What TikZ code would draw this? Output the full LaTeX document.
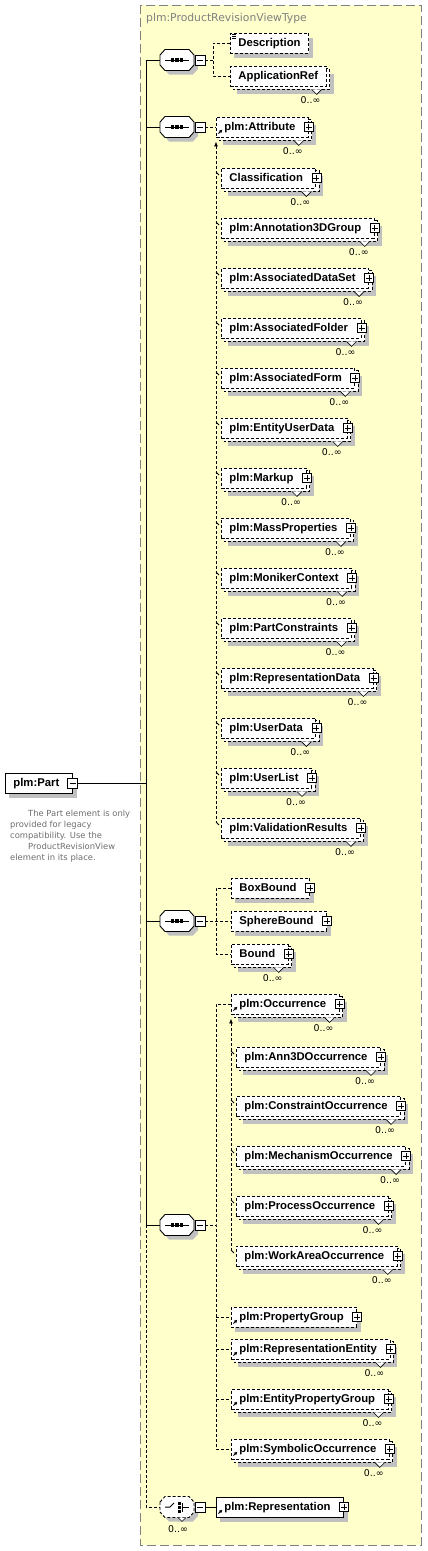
\documentclass[tikz,border=0pt]{standalone}
\usepackage{fontspec}
\setmainfont{Liberation Sans}
\newfontfamily\dejavu{DejaVu Sans}
\usetikzlibrary{calc,arrows.meta}

\definecolor{typefill}{RGB}{255,255,204}
\definecolor{shadowgray}{RGB}{192,192,192}
\definecolor{framegray}{RGB}{128,128,128}
\definecolor{docgray}{RGB}{110,110,110}

\pgfdeclarelayer{frame}
\pgfdeclarelayer{shade}
\pgfdeclarelayer{back}
\pgfsetlayers{frame,shade,back,main}

\tikzset{
  boxline/.style={line width=0.9pt, dash pattern=on 3pt off 2pt},
  conn/.style={line width=0.9pt, dash pattern=on 3pt off 2pt},
  link/.style={line width=0.9pt},
  basebox/.style={draw, boxline, fill=white, anchor=west, inner xsep=8pt, inner ysep=0pt,
    minimum height=20pt, text height=8.5pt, text depth=2.5pt,
    font=\fontsize{11.3}{13}\selectfont\bfseries},
  elem/.style={basebox, execute at end node={\hspace*{5pt}}},
  hub/.style={inner sep=0pt, minimum width=34pt, minimum height=21pt},
  plusbox/.style={draw, solid, line width=0.7pt, fill=white, minimum size=9pt, inner sep=0pt,
    path picture={\draw[line width=0.7pt] ($(path picture bounding box.center)+(-3,0)$) -- ++(6,0)
      ($(path picture bounding box.center)+(0,-3)$) -- ++(0,6);}},
  minusbox/.style={draw, solid, line width=0.7pt, fill=white, minimum size=10pt, inner sep=0pt,
    path picture={\draw[line width=0.7pt] ($(path picture bounding box.center)+(-3,0)$) -- ++(6,0);}},
  mult/.style={inner sep=0pt, font=\dejavu\fontsize{9.4}{10}\selectfont},
  doc/.style={inner sep=0pt, align=left, text=docgray, font=\dejavu\fontsize{8.4}{11}\selectfont},
  refarrow/.style={line width=0.9pt, -{Latex[length=3.5pt,width=3.5pt]}},
  headarrow/.style={{Latex[length=5pt,width=4pt]}-},
  seqshape/.pic={
    \fill[shadowgray] (-13,-1) -- (-8,-6.5) -- (16,-6.5) -- (21,-1) -- (21,9) -- (16,14.5) -- (-8,14.5) -- (-13,9) -- cycle;
    \draw[link, fill=white] (-17,-5) -- (-12,-10.5) -- (12,-10.5) -- (17,-5) -- (17,5) -- (12,10.5) -- (-12,10.5) -- (-17,5) -- cycle;
    \draw[line width=1pt] (-12,0) -- (12,0);
    \foreach \d in {-4.5,0,4.5} \fill (\d-1.7,-1.7) rectangle (\d+1.7,1.7);
  },
  choiceshape/.pic={
    \fill[shadowgray] (-13,-1) -- (-8,-6.5) -- (16,-6.5) -- (21,-1) -- (21,9) -- (16,14.5) -- (-8,14.5) -- (-13,9) -- cycle;
    \draw[boxline, fill=white] (-17,-5) -- (-12,-10.5) -- (12,-10.5) -- (17,-5) -- (17,5) -- (12,10.5) -- (-12,10.5) -- (-17,5) -- cycle;
    \draw[line width=1pt] (-12,0) -- (-7,0) -- (-3,-4);
    \draw[line width=0.8pt] (4.5,-4) -- (5.5,-4) -- (5.5,4) -- (4.5,4) (5.5,0) -- (12,0);
    \foreach \d in {-4,0,4} \fill (0.5,\d-1.5) rectangle (3.6,\d+1.5);
    \draw[line width=0.6pt, fill=white] (1,10.5) -- (5,14.5) -- (9,10.5);
  }
}

\begin{document}
\begin{tikzpicture}[x=1pt,y=-1pt]
\useasboundingbox (0,0) rectangle (428,1551);

% complex type frame
\begin{pgfonlayer}{frame}
\fill[typefill] (140,5) rectangle (421,1545);
\draw[framegray, line width=0.9pt, dash pattern=on 9pt off 4pt] (140,5) rectangle (421,1545);
\end{pgfonlayer}
\node[anchor=west, inner sep=0pt, text=framegray, font=\dejavu\fontsize{10.8}{12}\selectfont] (typename) at (146,19) {plm:ProductRevisionViewType};

% root element
\node[elem, solid] (part) at (5,783) {plm:Part};
\node[minusbox] (part-m) at (part.east) {};
\node[doc, anchor=north west] (partdoc) at (10,810) {\hspace*{18pt}The Part element is only\\provided for legacy\\compatibility. Use the\\\hspace*{18pt}ProductRevisionView\\element in its place.};

% compositors
\coordinate (trunk) at (146,0);
\foreach \n/\yy in {seqA/60, seqB/127, seqC/921, seqD/1225}{
  \pic at (177,\yy) {seqshape};
  \node[hub] (\n) at (177,\yy) {};
  \node[minusbox] (\n-m) at (200,\yy) {};
  \draw[link] (\n.west) -- (\n.west -| trunk);
}
\pic at (177,1507) {choiceshape};
\node[hub] (choice) at (177,1507) {};
\node[minusbox] (choice-m) at (200,1507) {};
\node[mult] (choice-n) at (178,1529) {0..∞};

% first sequence
\node[basebox] (desc) at (230,43) {Description};
\node[basebox] (appref) at (230,76) {ApplicationRef};
\foreach \k in {1.5,3.5,5.5} \draw[line width=0.6pt] ($(desc.north west)+(2,\k)$) -- ++(4,0);

% attribute substitution group
\node[elem] (attr) at (216,127) {plm:Attribute};
\foreach \n/\t/\yy in {cls/Classification/178, a3d/plm:Annotation3DGroup/228,
    ads/plm:AssociatedDataSet/278, afo/plm:AssociatedFolder/328,
    afm/plm:AssociatedForm/378, eud/plm:EntityUserData/428, mku/plm:Markup/478,
    mass/plm:MassProperties/528, mon/plm:MonikerContext/578,
    pcon/plm:PartConstraints/628, rdat/plm:RepresentationData/678,
    udat/plm:UserData/728, ulst/plm:UserList/778, vres/plm:ValidationResults/828}{
  \node[elem] (\n) at (221,\yy) {\t};
  \draw[link] ($(\n.west)+(-5,-6)$) -- ++(3,3);
}

% bounds
\node[elem] (boxb) at (231,888) {BoxBound};
\node[elem] (sphb) at (231,921) {SphereBound};
\node[elem] (bound) at (231,954) {Bound};

% occurrence substitution group
\node[elem] (occ) at (231,1004) {plm:Occurrence};
\foreach \n/\t/\yy in {ann3/plm:Ann3DOccurrence/1057, cocc/plm:ConstraintOccurrence/1106,
    mocc/plm:MechanismOccurrence/1156, pocc/plm:ProcessOccurrence/1206,
    wocc/plm:WorkAreaOccurrence/1256}{
  \node[elem] (\n) at (236,\yy) {\t};
  \draw[link] ($(\n.west)+(-5,-6)$) -- ++(3,3);
}
\node[elem] (propg) at (231,1317) {plm:PropertyGroup};
\node[elem] (rent) at (231,1349) {plm:RepresentationEntity};
\node[elem] (epg) at (231,1399) {plm:EntityPropertyGroup};
\node[elem] (symo) at (231,1449) {plm:SymbolicOccurrence};

% choice
\node[elem, solid] (repr) at (216,1507) {plm:Representation};

% shadows and stacked boxes
\begin{pgfonlayer}{shade}
\foreach \n in {part,desc,boxb,sphb,propg,repr}
  \fill[shadowgray] ($(\n.north west)+(4,5)$) rectangle ($(\n.south east)+(4,5)$);
\foreach \n in {appref,attr,cls,a3d,ads,afo,afm,eud,mku,mass,mon,pcon,rdat,udat,ulst,vres,
    bound,occ,ann3,cocc,mocc,pocc,wocc,rent,epg,symo}
  \fill[shadowgray] ($(\n.north west)+(7,8)$) rectangle ($(\n.south east)+(7,8)$);
\end{pgfonlayer}
\begin{pgfonlayer}{back}
\foreach \n in {appref,attr,cls,a3d,ads,afo,afm,eud,mku,mass,mon,pcon,rdat,udat,ulst,vres,
    bound,occ,ann3,cocc,mocc,pocc,wocc,rent,epg,symo}
  \draw[boxline, fill=white] ($(\n.north west)+(3,3)$) rectangle ($(\n.south east)+(3,3)$);
\end{pgfonlayer}
\foreach \n in {appref,attr,cls,a3d,ads,afo,afm,eud,mku,mass,mon,pcon,rdat,udat,ulst,vres,
    bound,occ,ann3,cocc,mocc,pocc,wocc,rent,epg,symo}{
  \draw[line width=0.6pt, fill=white] ($(\n.south east)+(-15,3)$) -- ++(5,5) -- ++(5,-5);
  \node[mult] (\n-n) at ($(\n.south east)+(-16,14)$) {0..∞};
}
\foreach \n in {attr,cls,a3d,ads,afo,afm,eud,mku,mass,mon,pcon,rdat,udat,ulst,vres,
    boxb,sphb,bound,occ,ann3,cocc,mocc,pocc,wocc,propg,rent,epg,symo,repr}
  \node[plusbox] (\n-p) at (\n.east) {};
\foreach \n in {attr,occ,propg,rent,epg,symo,repr}
  \draw[refarrow] ($(\n.west)+(2.5,6.5)$) -- ($(\n.west)+(6.5,2.5)$);

% connectors
\draw[link] (part-m.east) -- (part-m.east -| trunk);
\draw[link] (seqA.west -| trunk) -- (seqD.west -| trunk);
\draw[conn] (seqD.west -| trunk) |- (choice.west);

\coordinate (forkA) at (213,60);
\draw[conn] (seqA-m.east) -- (forkA);
\draw[conn] (desc.west) -| (forkA) |- (appref.west);

\draw[conn] (seqB-m.east) -- (attr.west);
\draw[conn, headarrow] ($(attr.south west)+(0,4)$) -- ($(vres.west)+(-5,-6)$);

\coordinate (forkC) at (216,921);
\draw[conn] (seqC-m.east) -- (sphb.west);
\draw[conn] (boxb.west) -| (forkC) |- (bound.west);

\coordinate (forkD) at (216,1225);
\draw[conn] (seqD-m.east) -- (forkD);
\draw[conn] (occ.west) -| (forkD) |- (symo.west);
\foreach \n in {propg,rent,epg} \draw[conn] (\n.west -| forkD) -- (\n.west);
\draw[conn, headarrow] ($(occ.south west)+(0,4)$) -- ($(wocc.west)+(-5,-6)$);

\draw[link] (choice-m.east) -- (repr.west);
\end{tikzpicture}
\end{document}
